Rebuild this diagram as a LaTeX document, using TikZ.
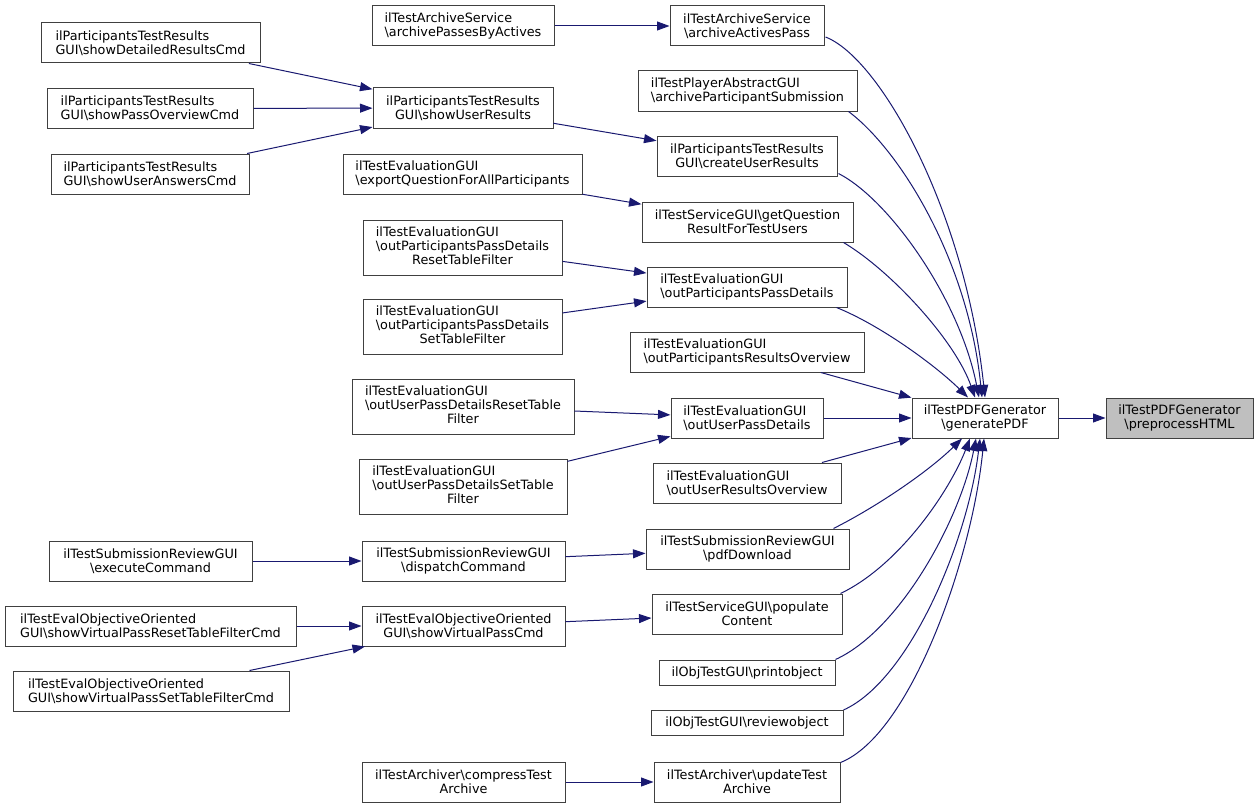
\documentclass[tikz,border=0pt]{standalone}
\usepackage{fontspec}
\setmainfont{DejaVu Sans}
\usetikzlibrary{arrows.meta}
\definecolor{edgecol}{HTML}{191970}
\definecolor{boxcol}{HTML}{404040}
\definecolor{hilite}{HTML}{BFBFBF}
\newcommand{\bs}{\textbackslash{}}
\tikzset{
  box/.style={draw=boxcol, line width=1pt, inner sep=0pt, fill=white,
    font=\fontsize{12.8}{14}\selectfont, text=black},
  bl/.style={box, align=left},
  bc/.style={box, align=center},
  edge/.style={draw=edgecol, line width=1pt, -{Triangle[length=12.5pt,width=9pt]}},
}
\newcommand{\mixthree}[3]{\begin{tabular}{@{}l@{}}#1\\#2\\\multicolumn{1}{@{}c@{}}{#3}\end{tabular}}
\begin{document}
\begin{tikzpicture}[x=1pt,y=-1pt]
\useasboundingbox (0,0) rectangle (1259,808);
% column A
\node[bl, minimum width=219, minimum height=40] (A1) at (150.5,43) {ilParticipantsTestResults\\GUI\bs showDetailedResultsCmd};
\node[bl, minimum width=206, minimum height=40] (A2) at (150,108.5) {ilParticipantsTestResults\\GUI\bs showPassOverviewCmd};
\node[bl, minimum width=198, minimum height=40] (A3) at (150,174) {ilParticipantsTestResults\\GUI\bs showUserAnswersCmd};
\node[bc, minimum width=203, minimum height=40] (A4) at (150.5,561) {ilTestSubmissionReviewGUI\\\bs executeCommand};
\node[bl, minimum width=291, minimum height=40] (A5) at (150.5,626) {ilTestEvalObjectiveOriented\\GUI\bs showVirtualPassResetTableFilterCmd};
\node[bl, minimum width=276, minimum height=40] (A6) at (151,691) {ilTestEvalObjectiveOriented\\GUI\bs showVirtualPassSetTableFilterCmd};
% column B
\node[bl, minimum width=182, minimum height=40] (B1) at (463,26) {ilTestArchiveService\\\bs archivePassesByActives};
\node[bc, minimum width=180, minimum height=40] (B2) at (463,108) {ilParticipantsTestResults\\GUI\bs showUserResults};
\node[bl, minimum width=239, minimum height=40] (B3) at (462.5,174) {ilTestEvaluationGUI\\\bs exportQuestionForAllParticipants};
\node[box, minimum width=199, minimum height=55] (B4) at (462.5,247.5) {\mixthree{ilTestEvaluationGUI}{\bs outParticipantsPassDetails}{ResetTableFilter}};
\node[box, minimum width=199, minimum height=55] (B5) at (462.5,327) {\mixthree{ilTestEvaluationGUI}{\bs outParticipantsPassDetails}{SetTableFilter}};
\node[box, minimum width=222, minimum height=55] (B6) at (463,406.5) {\mixthree{ilTestEvaluationGUI}{\bs outUserPassDetailsResetTable}{Filter}};
\node[box, minimum width=208, minimum height=55] (B7) at (463,486.5) {\mixthree{ilTestEvaluationGUI}{\bs outUserPassDetailsSetTable}{Filter}};
\node[bc, minimum width=203, minimum height=40] (B8) at (463.5,561) {ilTestSubmissionReviewGUI\\\bs dispatchCommand};
\node[bc, minimum width=203, minimum height=40] (B9) at (463.5,626) {ilTestEvalObjectiveOriented\\GUI\bs showVirtualPassCmd};
\node[bc, minimum width=203, minimum height=40] (B10) at (463.5,782) {ilTestArchiver\bs compressTest\\Archive};
% column C
\node[bc, minimum width=154, minimum height=40] (C1) at (747,26) {ilTestArchiveService\\\bs archiveActivesPass};
\node[bl, minimum width=219, minimum height=40] (C2) at (747.5,91) {ilTestPlayerAbstractGUI\\\bs archiveParticipantSubmission};
\node[bc, minimum width=180, minimum height=40] (C3) at (747,156) {ilParticipantsTestResults\\GUI\bs createUserResults};
\node[bc, minimum width=211, minimum height=40] (C4) at (747.5,222) {ilTestServiceGUI\bs getQuestion\\ResultForTestUsers};
\node[bl, minimum width=200, minimum height=40] (C5) at (747,287) {ilTestEvaluationGUI\\\bs outParticipantsPassDetails};
\node[bl, minimum width=234, minimum height=40] (C6) at (747,352) {ilTestEvaluationGUI\\\bs outParticipantsResultsOverview};
\node[bl, minimum width=152, minimum height=40] (C7) at (747,418) {ilTestEvaluationGUI\\\bs outUserPassDetails};
\node[bl, minimum width=188, minimum height=40] (C8) at (747,483) {ilTestEvaluationGUI\\\bs outUserResultsOverview};
\node[bc, minimum width=203, minimum height=40] (C9) at (747.5,549) {ilTestSubmissionReviewGUI\\\bs pdfDownload};
\node[bc, minimum width=190, minimum height=40] (C10) at (747,614) {ilTestServiceGUI\bs populate\\Content};
\node[bc, minimum width=176, minimum height=25] (C11) at (747,672.5) {ilObjTestGUI\bs printobject};
\node[bc, minimum width=192, minimum height=25] (C12) at (747,723) {ilObjTestGUI\bs reviewobject};
\node[bc, minimum width=186, minimum height=40] (C13) at (747,782) {ilTestArchiver\bs updateTest\\Archive};
% main
\node[bc, minimum width=146, minimum height=40] (M) at (985,418) {ilTestPDFGenerator\\\bs generatePDF};
\node[bc, minimum width=147, minimum height=40, fill=hilite] (T) at (1179.5,418) {ilTestPDFGenerator\\\bs preprocessHTML};
% straight edges
\draw[edge] (B1) -- (C1);
\draw[edge] (A1) -- (B2);
\draw[edge] (A2) -- (B2);
\draw[edge] (A3) -- (B2);
\draw[edge] (B2) -- (C3);
\draw[edge] (B3) -- (C4);
\draw[edge] (B4) -- (C5);
\draw[edge] (B5) -- (C5);
\draw[edge] (B6) -- (C7);
\draw[edge] (B7) -- (C7);
\draw[edge] (A4) -- (B8);
\draw[edge] (B8) -- (C9);
\draw[edge] (A5) -- (B9);
\draw[edge] (A6) -- (B9);
\draw[edge] (B9) -- (C10);
\draw[edge] (B10) -- (C13);
\draw[edge] (C6) -- (M);
\draw[edge] (C7) -- (M);
\draw[edge] (C8) -- (M);
\draw[edge] (M) -- (T);
% curved edges into generatePDF
\draw[edge] ([shift={(1,11)}]C1.east) .. controls (880,58) and (965,210) .. ([shift={(0,0)}]M.north);
\draw[edge] ([shift={(-9,0)}]C2.south east) .. controls (900,150) and (968,260) .. ([shift={(-3,0)}]M.north);
\draw[edge] ([shift={(1,-3)}]C3.south east) .. controls (890,200) and (960,300) .. ([shift={(-6,0)}]M.north);
\draw[edge] ([shift={(-10,0)}]C4.south east) .. controls (890,270) and (955,340) .. ([shift={(-10,0)}]M.north);
\draw[edge] ([shift={(-11,0)}]C5.south east) .. controls (880,325) and (935,365) .. ([shift={(-17,0)}]M.north);
\draw[edge] ([shift={(-16,0)}]C9.north east) .. controls (880,505) and (930,470) .. ([shift={(-23,0)}]M.south);
\draw[edge] ([shift={(-2,0)}]C10.north east) .. controls (900,565) and (950,490) .. ([shift={(-15,0)}]M.south);
\draw[edge] ([shift={(0,0)}]C11.north east) .. controls (900,630) and (960,520) .. ([shift={(-9,0)}]M.south);
\draw[edge] ([shift={(0,0)}]C12.north east) .. controls (910,680) and (968,540) .. ([shift={(-5,0)}]M.south);
\draw[edge] ([shift={(0,1)}]C13.north east) .. controls (910,735) and (972,560) .. ([shift={(-1,0)}]M.south);
\end{tikzpicture}
\end{document}
